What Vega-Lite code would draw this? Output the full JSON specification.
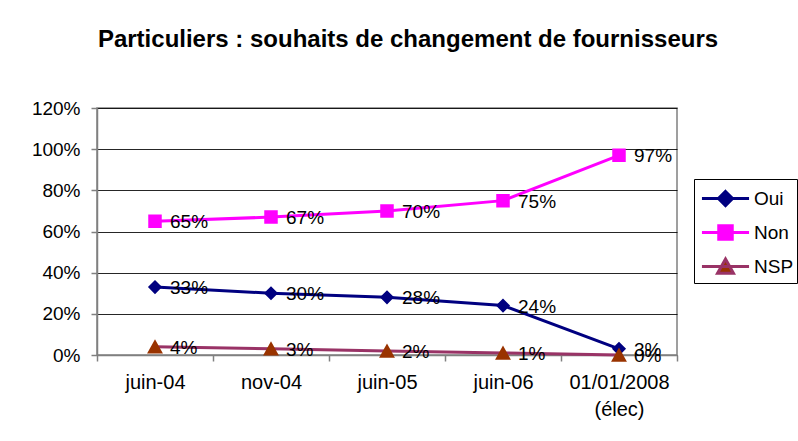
{
  "$schema": "https://vega.github.io/schema/vega-lite/v6.json",
  "width": 580,
  "height": 247,
  "autosize": {"type": "none"},
  "padding": {"left": 97, "top": 108, "right": 121, "bottom": 86},
  "background": "white",
  "config": {
    "font": "Liberation Sans",
    "view": {"stroke": "#808080", "strokeWidth": 1.5},
    "legend": {
      "title": null, "orient": "none", "legendX": 597, "legendY": 71,
      "strokeColor": "black", "fillColor": "white", "padding": 3,
      "symbolSize": 900, "symbolStrokeWidth": 3, "symbolOpacity": 1, "symbolOffset": 12,
      "labelFontSize": 19, "labelColor": "black", "labelOffset": 12, "rowPadding": 4
    }
  },
  "title": {"text": "Particuliers : souhaits de changement de fournisseurs", "fontSize": 24, "fontWeight": "bold", "color": "black", "anchor": "middle", "dx": 21, "offset": 47},
  "data": {"values": [
    {"date": "juin-04", "serie": "Oui", "v": 0.33},
    {"date": "nov-04", "serie": "Oui", "v": 0.30},
    {"date": "juin-05", "serie": "Oui", "v": 0.28},
    {"date": "juin-06", "serie": "Oui", "v": 0.24},
    {"date": "01/01/2008 (élec)", "serie": "Oui", "v": 0.03},
    {"date": "juin-04", "serie": "Non", "v": 0.65},
    {"date": "nov-04", "serie": "Non", "v": 0.67},
    {"date": "juin-05", "serie": "Non", "v": 0.70},
    {"date": "juin-06", "serie": "Non", "v": 0.75},
    {"date": "01/01/2008 (élec)", "serie": "Non", "v": 0.97},
    {"date": "juin-04", "serie": "NSP", "v": 0.04},
    {"date": "nov-04", "serie": "NSP", "v": 0.03},
    {"date": "juin-05", "serie": "NSP", "v": 0.02},
    {"date": "juin-06", "serie": "NSP", "v": 0.01},
    {"date": "01/01/2008 (élec)", "serie": "NSP", "v": 0.0}
  ]},
  "encoding": {
    "x": {
      "field": "date", "type": "nominal",
      "sort": ["juin-04", "nov-04", "juin-05", "juin-06", "01/01/2008 (élec)"],
      "bandPosition": 0.5,
      "scale": {"type": "band", "paddingInner": 0, "paddingOuter": 0},
      "axis": {
        "title": null, "grid": false, "tickBand": "extent", "labelAngle": 0,
        "domainColor": "#808080", "domainWidth": 1.5, "tickColor": "#808080", "tickWidth": 1.5, "tickSize": 6,
        "labelFontSize": 20, "labelColor": "black", "labelPadding": 11, "labelLineHeight": 27,
        "labelExpr": "datum.label == '01/01/2008 (élec)' ? ['01/01/2008', '(élec)'] : datum.label"
      }
    },
    "y": {
      "field": "v", "type": "quantitative",
      "scale": {"domain": [0, 1.2], "nice": false},
      "axis": {
        "title": null, "format": ".0%", "values": [0, 0.2, 0.4, 0.6, 0.8, 1.0, 1.2],
        "gridColor": "#000000", "gridWidth": 1, "gridOpacity": 0.85,
        "domainColor": "#808080", "domainWidth": 1.5, "tickColor": "#808080", "tickWidth": 1.5, "tickSize": 6,
        "labelFontSize": 19, "labelColor": "black", "labelPadding": 11
      }
    }
  },
  "layer": [
    {
      "mark": {"type": "line", "strokeWidth": 3},
      "encoding": {
        "stroke": {"field": "serie", "type": "nominal", "scale": {"domain": ["Oui", "Non", "NSP"], "range": ["#000080", "#FF00FF", "#993366"]}}
      }
    },
    {
      "mark": {"type": "point", "filled": true, "opacity": 1, "size": 900},
      "encoding": {
        "fill": {
          "field": "serie", "type": "nominal",
          "scale": {"domain": ["Oui", "Non", "NSP"], "range": ["#000080", "#FF00FF", "#993300"]}
        },
        "shape": {
          "field": "serie", "type": "nominal",
          "scale": {"domain": ["Oui", "Non", "NSP"], "range": [
            "M-1.57,0L1.57,0M0,-0.47L0.47,0L0,0.47L-0.47,0Z",
            "M-1.57,0L1.57,0M-0.45,-0.45L0.45,-0.45L0.45,0.45L-0.45,0.45Z",
            "M-1.57,0L1.57,0M0,-0.5L0.53,0.45L-0.53,0.45Z"
          ]}
        }
      }
    },
    {
      "mark": {"type": "text", "align": "left", "baseline": "middle", "dx": 15, "dy": 1, "fontSize": 19, "color": "black"},
      "encoding": {"text": {"field": "v", "type": "quantitative", "format": ".0%"}}
    }
  ]
}
